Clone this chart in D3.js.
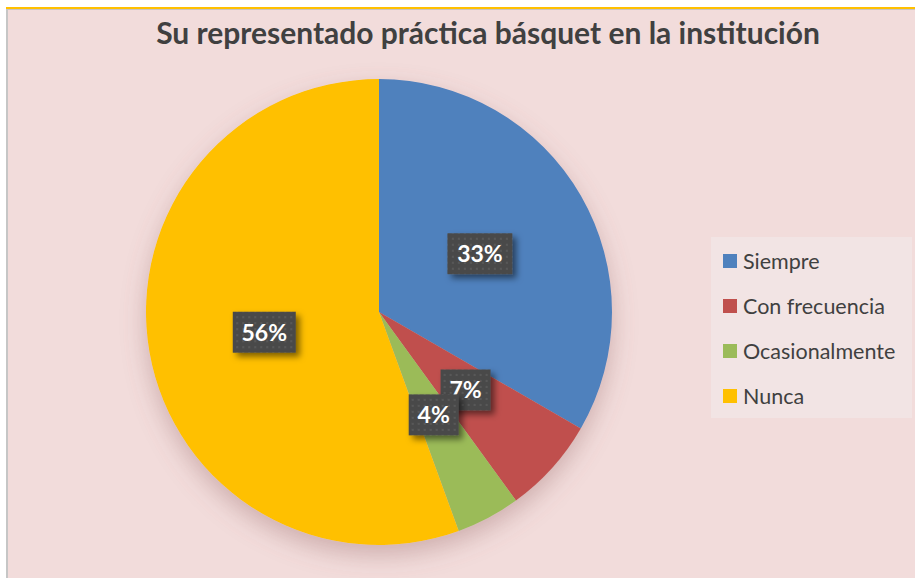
<!DOCTYPE html>
<html>
<head>
<meta charset="utf-8">
<script src="https://cdn.jsdelivr.net/npm/d3@7"></script>
<style>
  body { margin: 0; background: #fff; }
  svg { display: block; }
</style>
</head>
<body>
<svg width="915" height="578"></svg>
<script>
// data
var categories = ["Siempre", "Con frecuencia", "Ocasionalmente", "Nunca"];
var counts = [15, 3, 2, 25];
var labels = ["33%", "7%", "4%", "56%"];
var colors = ["#4f81bd", "#c0504d", "#9bbb59", "#ffc000"];
var title = "Su representado práctica básquet en la institución";

var width = 915, height = 578,
  cx = 379, cy = 312, radius = 233;

var svg = d3.select("svg");
var defs = svg.append("defs");

var shadow = defs.append("filter").attr("id", "pieshadow")
  .attr("x", "-30%").attr("y", "-30%").attr("width", "160%").attr("height", "160%");
shadow.append("feDropShadow")
  .attr("dx", 0).attr("dy", 10).attr("stdDeviation", 12)
  .attr("flood-color", "#8a5a5a").attr("flood-opacity", 0.35);

var boxshadow = defs.append("filter").attr("id", "boxshadow")
  .attr("x", "-20%").attr("y", "-20%").attr("width", "150%").attr("height", "150%");
boxshadow.append("feDropShadow")
  .attr("dx", 4).attr("dy", 4).attr("stdDeviation", 3)
  .attr("flood-color", "#000").attr("flood-opacity", 0.5);

var dots = defs.append("pattern").attr("id", "dots")
  .attr("patternUnits", "userSpaceOnUse").attr("width", 6).attr("height", 6);
dots.append("rect").attr("width", 6).attr("height", 6).attr("fill", "#4a4a4a");
dots.append("rect").attr("x", 2).attr("y", 2).attr("width", 2).attr("height", 2).attr("fill", "#595959");

// frame
svg.append("rect").attr("x", 0).attr("y", 0).attr("width", width).attr("height", height).attr("fill", "#fff");
svg.append("rect").attr("x", 7).attr("y", 9).attr("width", width - 7).attr("height", height - 9)
  .attr("fill", "#f2dcdb");
svg.append("rect").attr("x", 6).attr("y", 9).attr("width", 2).attr("height", height - 9).attr("fill", "#c6c6c6");
svg.append("rect").attr("x", 6).attr("y", 9).attr("width", width - 6).attr("height", 1).attr("fill", "#c9c3c3");
svg.append("rect").attr("x", 6).attr("y", 7).attr("width", width - 6).attr("height", 2).attr("fill", "#ffc000");

// title
var t = svg.append("text")
  .attr("x", 488).attr("y", 44)
  .attr("text-anchor", "middle")
  .attr("font-family", "Lato, 'Open Sans', sans-serif")
  .attr("font-weight", "bold")
  .attr("font-size", 28)
  .attr("fill", "#404040")
  .text(title);
var tw = t.node().getComputedTextLength();
t.attr("font-size", 28 * 664 / tw);

// pie
var pie = d3.pie().sort(null).value(function(d) { return d; });
var arc = d3.arc().innerRadius(0).outerRadius(radius);
var arcs = pie(counts);

var g = svg.append("g").attr("transform", "translate(" + cx + "," + cy + ")");
g.append("g").attr("filter", "url(#pieshadow)")
  .selectAll("path")
  .data(arcs)
  .enter().append("path")
  .attr("d", arc)
  .attr("fill", function(d, i) { return colors[i]; });

// data labels
var boxW = [65, 50, 50, 63];
var lab = g.selectAll("g.lab")
  .data(arcs)
  .enter().append("g")
  .attr("class", "lab")
  .attr("transform", function(d) { var c = arc.centroid(d); return "translate(" + c[0] + "," + c[1] + ")"; });
lab.append("rect")
  .attr("x", function(d, i) { return -boxW[i] / 2; })
  .attr("y", -20.5)
  .attr("width", function(d, i) { return boxW[i]; })
  .attr("height", 41)
  .attr("fill", "url(#dots)")
  .attr("filter", "url(#boxshadow)");
lab.append("text")
  .attr("text-anchor", "middle")
  .attr("dy", "0.36em")
  .attr("font-family", "Lato, 'Open Sans', sans-serif")
  .attr("font-weight", "bold")
  .attr("font-size", 23)
  .attr("fill", "#fff")
  .text(function(d, i) { return labels[i]; });

// legend
var legend = svg.append("g").attr("transform", "translate(711,237)");
legend.append("rect").attr("width", 201).attr("height", 181).attr("fill", "#f2e4e4");
var item = legend.selectAll("g.item")
  .data(categories)
  .enter().append("g")
  .attr("class", "item")
  .attr("transform", function(d, i) { return "translate(0," + (24 + i * 45) + ")"; });
item.append("rect")
  .attr("x", 12).attr("y", -7)
  .attr("width", 14).attr("height", 14)
  .attr("fill", function(d, i) { return colors[i]; });
item.append("text")
  .attr("x", 32)
  .attr("dy", "0.35em")
  .attr("font-family", "Lato, 'Open Sans', sans-serif")
  .attr("font-size", 21.5)
  .attr("fill", "#404040")
  .text(function(d) { return d; });
</script>
</body>
</html>
